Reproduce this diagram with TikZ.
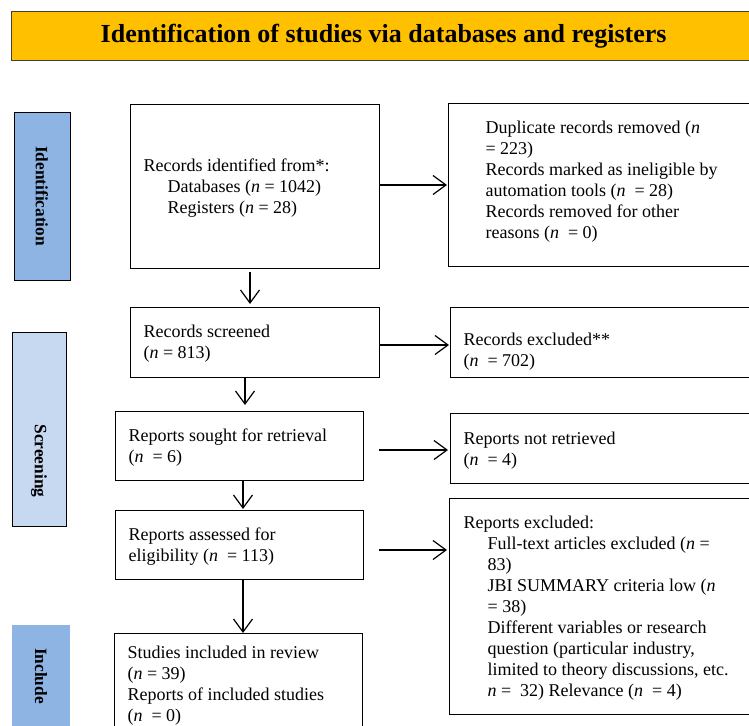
\documentclass[tikz,border=0pt]{standalone}
\usepackage{fontspec}
\setmainfont{Liberation Serif}
\usetikzlibrary{arrows.meta}
\definecolor{titleyel}{HTML}{FFC000}
\definecolor{sidedark}{HTML}{8EB4E3}
\definecolor{sidelight}{HTML}{C6D9F1}
\newcommand{\bxc}[5]{\hspace*{#3}\parbox[c][#2][t]{\dimexpr#1-#3\relax}{\raggedright\vspace*{#4}\strut #5}}
\begin{document}
\begin{tikzpicture}[x=1pt,y=-1pt,
  flowbox/.style={draw, line width=1.2pt, rectangle, anchor=north west, inner sep=0pt, font=\fontsize{18}{21}\selectfont},
  sidebox/.style={rectangle, anchor=north west, inner sep=0pt},
  sidelabel/.style={rotate=-90, font=\fontsize{17.3}{20}\selectfont\bfseries, inner sep=0pt},
  arr/.style={line width=1.2pt, -{Straight Barb[length=13pt,width=19pt,line width=1.2pt]}},
]
\useasboundingbox (0,0) rectangle (749,725);

% title
\node[draw=black!75, line width=1.2pt, fill=titleyel, anchor=north west, minimum width=744pt, minimum height=49pt, inner sep=0pt,
  font=\fontsize{26}{30}\selectfont\bfseries] (title) at (11,11) {Identification of studies via databases and registers};

% side boxes
\node[sidebox, draw, line width=1.2pt, fill=sidedark, minimum width=56pt, minimum height=168pt] (sideid) at (14,112) {};
\node[sidelabel] (labid) at (42,196) {Identification};
\node[sidebox, draw, line width=1.2pt, fill=sidelight, minimum width=54pt, minimum height=194pt] (sidescr) at (12,332) {};
\node[sidelabel] (labscr) at (39,461) {Screening};
\node[sidebox, fill=sidedark, minimum width=58pt, minimum height=130pt] (sideinc) at (12,625) {};
\node[sidelabel] (labinc) at (41,676) {Include};

% main column
\node[flowbox] (ident) at (130,104) {\bxc{249pt}{164pt}{13pt}{52pt}{Records identified from*:\\
\hspace*{24pt}Databases (\textit{n} = 1042)\\
\hspace*{24pt}Registers (\textit{n} = 28)}};
\node[flowbox] (screened) at (130,307) {\bxc{249pt}{70pt}{13pt}{15pt}{Records screened\\
(\textit{n} = 813)}};
\node[flowbox] (sought) at (115,411) {\bxc{248pt}{69pt}{13pt}{15pt}{Reports sought for retrieval\\
(\textit{n}\ \ = 6)}};
\node[flowbox] (assessed) at (115,510) {\bxc{248pt}{69pt}{13pt}{15pt}{Reports assessed for\\
eligibility (\textit{n}\ \ = 113)}};
\node[flowbox] (included) at (114,633) {\bxc{248pt}{120pt}{13pt}{10pt}{Studies included in review\\
(\textit{n} = 39)\\
Reports of included studies\\
(\textit{n}\ \ = 0)}};

% right column
\node[flowbox] (dup) at (448,103) {\bxc{320pt}{163pt}{37pt}{15pt}{Duplicate records removed (\textit{n}\\
= 223)\\
Records marked as ineligible by\\
automation tools (\textit{n}\ \ = 28)\\
Records removed for other\\
reasons (\textit{n}\ \ = 0)}};
\node[flowbox] (excl) at (450,307) {\bxc{320pt}{70pt}{13pt}{23pt}{Records excluded**\\
(\textit{n}\ \ = 702)}};
\node[flowbox] (notret) at (450,413) {\bxc{320pt}{70pt}{13pt}{16pt}{Reports not retrieved\\
(\textit{n}\ \ = 4)}};
\node[flowbox] (repexcl) at (449,498) {\bxc{320pt}{216pt}{14pt}{15pt}{Reports excluded:\\
\hspace*{24pt}Full-text articles excluded (\textit{n} =\\
\hspace*{24pt}83)\\
\hspace*{24pt}JBI SUMMARY criteria low (\textit{n}\\
\hspace*{24pt}= 38)\\
\hspace*{24pt}Different variables or research\\
\hspace*{24pt}question (particular industry,\\
\hspace*{24pt}limited to theory discussions, etc.\\
\hspace*{24pt}\textit{n} =\ \ 32) Relevance (\textit{n}\ \ = 4)}};

% helper coordinates for connector positions
\coordinate (vx1) at (250,0);
\coordinate (vx2) at (245,0);
\coordinate (vx3) at (243,0);
\coordinate (hy1) at (0,185);
\coordinate (hy2) at (0,345);
\coordinate (hy3) at (0,450);
\coordinate (hy4) at (0,550);

% vertical arrows
\draw[arr, shorten <=3pt, shorten >=3pt] (ident.south -| vx1) -- (screened.north -| vx1);
\draw[arr, shorten >=6pt] (screened.south -| vx2) -- (sought.north -| vx2);
\draw[arr, shorten >=1pt] (sought.south -| vx3) -- (assessed.north -| vx3);
\draw[arr] (assessed.south -| vx3) -- (included.north -| vx3);

% horizontal arrows
\draw[arr, shorten >=1pt] (ident.east |- hy1) -- (dup.west |- hy1);
\draw[arr, shorten >=1pt] (screened.east |- hy2) -- (excl.west |- hy2);
\draw[arr, shorten <=15pt, shorten >=2pt] (sought.east |- hy3) -- (notret.west |- hy3);
\draw[arr, shorten <=15pt, shorten >=2pt] (assessed.east |- hy4) -- (repexcl.west |- hy4);
\end{tikzpicture}
\end{document}
